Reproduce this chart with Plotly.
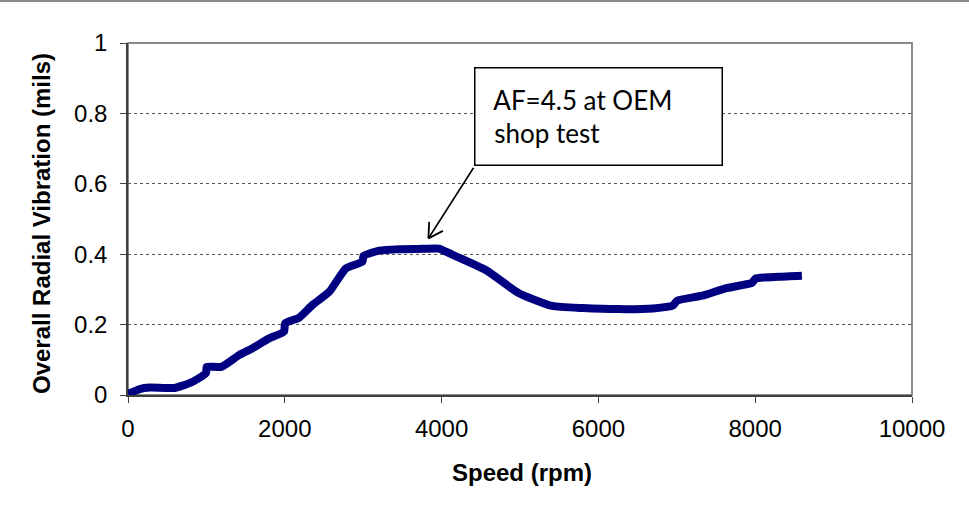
import math
import plotly.graph_objects as go

speed_rpm = [0, 150, 280, 590, 800, 995, 1005, 1190, 1420, 1590, 1800, 1990, 2005,
             2185, 2354, 2567, 2780, 2990, 3005, 3204, 3460, 3700, 3968, 4054, 4563,
             4987, 5411, 5800, 6261, 6700, 6950, 7005, 7322, 7620, 7960, 8005, 8300, 8596]
vibration_mils = [0.003, 0.017, 0.021, 0.020, 0.035, 0.062, 0.080, 0.080, 0.114, 0.133,
                  0.161, 0.180, 0.204, 0.220, 0.256, 0.293, 0.360, 0.379, 0.395, 0.410,
                  0.414, 0.415, 0.416, 0.407, 0.355, 0.289, 0.253, 0.247, 0.244, 0.246,
                  0.254, 0.268, 0.282, 0.303, 0.319, 0.331, 0.336, 0.339]

x_ticks = [0, 2000, 4000, 6000, 8000, 10000]
y_ticks = [0, 0.2, 0.4, 0.6, 0.8, 1]
y_tick_text = ["0", "0.2", "0.4", "0.6", "0.8", "1"]

note_text = "&nbsp;AF=4.5 at OEM<br>&nbsp;shop test"
note_tip = (3832, 0.445)

W, H = 969, 517
ML, MR, MT, MB = 128, 57, 43, 122
PH = H - MT - MB

fig = go.Figure()
fig.add_trace(go.Scatter(
    x=speed_rpm, y=vibration_mils, mode="lines",
    line=dict(color="#000080", width=8, shape="spline", smoothing=0.5),
    showlegend=False, hoverinfo="skip"))

font_ax = dict(family="Arial, Liberation Sans, sans-serif", size=24, color="black")

fig.update_layout(
    width=W, height=H,
    margin=dict(l=ML, r=MR, t=MT, b=MB, autoexpand=False),
    paper_bgcolor="white", plot_bgcolor="white",
    xaxis=dict(range=[0, 10000], tickvals=x_ticks, ticktext=[str(v) for v in x_ticks],
               showgrid=False, zeroline=False, showline=True, linecolor="#404040",
               linewidth=1.5, ticks="outside", ticklen=6, tickcolor="#404040",
               tickfont=font_ax, ticklabelstandoff=5),
    yaxis=dict(range=[0, 1], tickvals=y_ticks, ticktext=y_tick_text,
               showgrid=True, gridcolor="#555555", griddash="dot", gridwidth=1,
               zeroline=False, showline=True, linecolor="#404040", linewidth=1.5,
               ticks="outside", ticklen=6, tickcolor="#404040",
               tickfont=font_ax, ticklabelstandoff=8),
)

# plot frame
fig.add_shape(type="rect", xref="x domain", yref="y domain", x0=0, x1=1, y0=0, y1=1,
              line=dict(color="#8c8c8c", width=2), layer="below")
# chart area top border
fig.add_shape(type="line", xref="paper", yref="paper",
              x0=-ML / (W - ML - MR), x1=1 + MR / (W - ML - MR),
              y0=1 + (MT - 1) / PH, y1=1 + (MT - 1) / PH,
              line=dict(color="#8c8c8c", width=2))

title_font = dict(family="Arial, Liberation Sans, sans-serif", size=24, color="black")
fig.add_annotation(text="<b>Speed (rpm)</b>", xref="paper", yref="paper", x=0.5, y=0,
                   xanchor="center", yanchor="middle", yshift=-77, xshift=2, showarrow=False,
                   font=title_font)
fig.add_annotation(text="<b>Overall Radial Vibration (mils)</b>", xref="paper", yref="paper",
                   x=0, y=0.5, xanchor="center", yanchor="middle", xshift=-87, yshift=-5,
                   textangle=-90, showarrow=False, font=title_font)

# arrow shaft (tail offset in px from the tip)
tail = (46, -72)
fig.add_annotation(x=note_tip[0], y=note_tip[1], xref="x", yref="y", text="",
                   showarrow=True, ax=tail[0], ay=tail[1], arrowhead=0,
                   arrowwidth=1.8, arrowcolor="black", standoff=0)
# open V arrow head arms
ang = math.atan2(tail[1], tail[0])
for d in (math.radians(30), -math.radians(30)):
    fig.add_annotation(x=note_tip[0], y=note_tip[1], xref="x", yref="y", text="",
                       showarrow=True, ax=18 * math.cos(ang + d), ay=18 * math.sin(ang + d),
                       arrowhead=0, arrowwidth=1.8, arrowcolor="black", standoff=0)
# text box
fig.add_annotation(x=note_tip[0], y=note_tip[1], xref="x", yref="y", text=note_text,
                   showarrow=False, xshift=170, yshift=122, align="left",
                   width=222, height=72, borderpad=12, bordercolor="black", borderwidth=1.5,
                   bgcolor="white", font=dict(family="Lato, sans-serif", size=26, color="black"))

fig.write_html("out.html")
